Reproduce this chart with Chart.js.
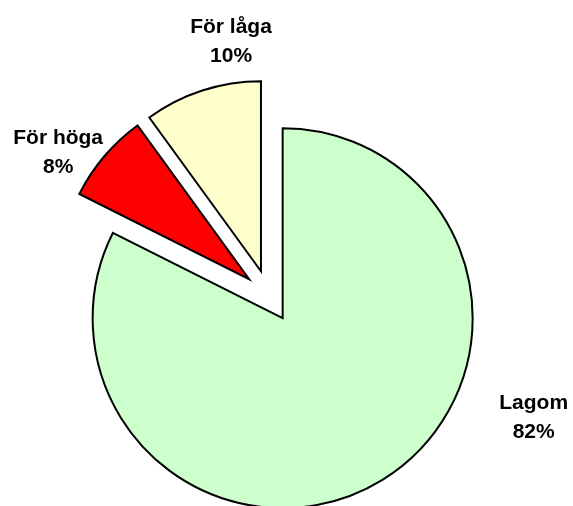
<!DOCTYPE html>
<html>
<head>
<meta charset="utf-8">
<script src="https://cdn.jsdelivr.net/npm/chart.js@4.4.1/dist/chart.umd.min.js"></script>
<style>
  html, body { margin: 0; padding: 0; background: #fff; }
  #wrap { width: 573px; height: 506px; position: relative; }
</style>
</head>
<body>
<div id="wrap"><canvas id="pieChart"></canvas></div>
<script>
// Chart data (shares; labels show them rounded)
const categories = ['Lagom', 'För höga', 'För låga'];
const shares = [82.4, 7.6, 10];
const sliceColors = ['#CCFFCC', '#FF0000', '#FFFFCC'];

const PIE_RADIUS = 190;
const EXPLODE = 26; // px every slice is pulled out from the centre

// Label placement around the pie (angle in degrees from top, clockwise; distance from centre)
const labelPlacement = [
  { angle: 115.8, dist: 294 },
  { angle: 303.2, dist: 252 },
  { angle: 351.3, dist: 251 }
];

/**
 * Chart.js grows and narrows each arc by part of its offset; undo that
 * so every exploded slice keeps the same radius and its true angles
 */
const evenExplode = {
  id: 'evenExplode',
  afterDatasetUpdate(chart) {
    const meta = chart.getDatasetMeta(0);
    meta.data.forEach(arc => {
      const fix = 1 - Math.sin(Math.min(Math.PI, arc.circumference));
      const grow = EXPLODE * fix;
      const widen = grow / Math.PI / PIE_RADIUS / 2;
      arc.outerRadius = PIE_RADIUS - grow;
      arc.startAngle -= widen;
      arc.endAngle += widen;
    });
  }
};

/**
 * Draw two-line category / percent labels outside each slice
 */
const outsideLabels = {
  id: 'outsideLabels',
  afterDatasetsDraw(chart) {
    const ctx = chart.ctx;
    const meta = chart.getDatasetMeta(0);
    ctx.save();
    ctx.font = 'bold 21px "Liberation Sans", Arial, sans-serif';
    ctx.fillStyle = '#000';
    ctx.textAlign = 'center';
    ctx.textBaseline = 'alphabetic';
    meta.data.forEach((arc, i) => {
      const p = labelPlacement[i];
      const a = p.angle * Math.PI / 180;
      const x = arc.x + p.dist * Math.sin(a);
      const y = arc.y - p.dist * Math.cos(a);
      ctx.fillText(categories[i], x, y - 14.5);
      ctx.fillText(`${Math.round(shares[i])}%`, x, y + 14.5);
    });
    ctx.restore();
  }
};

const ctx = document.getElementById('pieChart').getContext('2d');
new Chart(ctx, {
  type: 'pie',
  data: {
    labels: categories,
    datasets: [{
      data: shares,
      backgroundColor: sliceColors,
      borderColor: '#000',
      borderWidth: 2,
      borderJoinStyle: 'miter',
      offset: EXPLODE * 4,
      hoverOffset: 0
    }]
  },
  options: {
    responsive: true,
    maintainAspectRatio: false,
    animation: false,
    radius: PIE_RADIUS,
    layout: { padding: { left: 0, right: 35, top: 86, bottom: 0 } },
    plugins: {
      legend: { display: false },
      tooltip: { enabled: false }
    }
  },
  plugins: [evenExplode, outsideLabels]
});
</script>
</body>
</html>
